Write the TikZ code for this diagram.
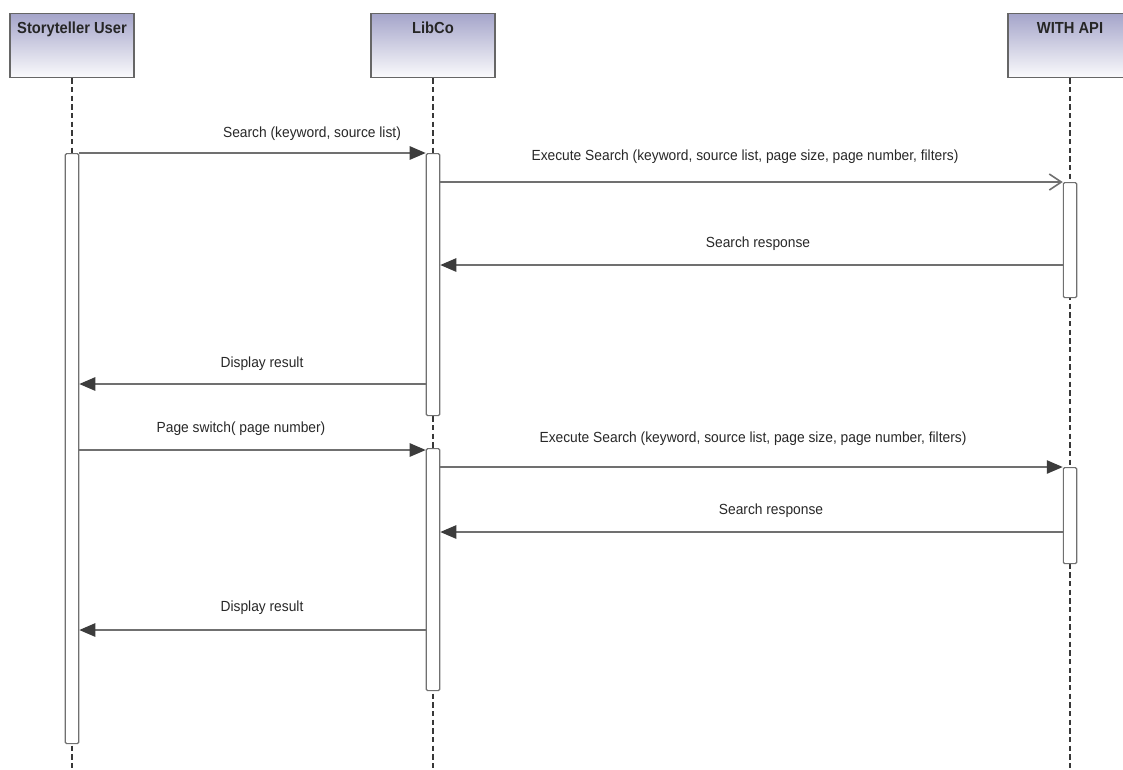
\documentclass[tikz,border=0pt]{standalone}
\usepackage{fontspec}
\setmainfont{Liberation Sans}[FakeStretch=0.92]
\newfontfamily\msgfont{Liberation Sans}[FakeStretch=0.94]
\usetikzlibrary{arrows.meta}
\definecolor{headtop}{RGB}{165,165,202}
\definecolor{linegray}{RGB}{112,112,112}
\definecolor{tipgray}{RGB}{60,60,60}
\definecolor{textgray}{RGB}{40,40,40}
\tikzset{head/.style={draw=black!60, line width=1pt, top color=headtop, bottom color=white!95!headtop, anchor=north, minimum width=93pt, inner ysep=4pt, text height=11pt, text depth=29pt, font=\bfseries\fontsize{12}{14}\selectfont, text=black!85}}
\tikzset{bar/.style={draw=linegray, fill=white, line width=0.9pt, rounded corners=1pt, anchor=north, minimum width=10pt, inner sep=0pt}}
\tikzset{lifeline/.style={draw=black!78, line width=1.6pt, dash pattern=on 4pt off 2.5pt}}
\tikzset{msg/.style={draw=linegray, line width=1.2pt, -{Triangle[length=12pt,width=10pt,color=tipgray]}}}
\tikzset{async/.style={draw=linegray, line width=1.2pt, -{Straight Barb[length=9pt,width=12pt,color=linegray]}}}
\tikzset{mlabel/.style={font=\msgfont\fontsize{11}{13}\selectfont, text=textgray, inner sep=1pt}}
\begin{document}
\begin{tikzpicture}[x=0.75pt, y=-0.75pt]
    \clip (0,0) rectangle (1123,769);
    \fill[white] (0,0) rectangle (1123,769);
    % heads and lifelines
    \node[head] (user) at (72,13) {Storyteller User};
    \node[head] (libco) at (433,13) {LibCo};
    \node[head] (api) at (1070,13) {WITH API};
    \coordinate (bottom) at (0,775);
    \foreach \p in {user,libco,api}
        \draw[lifeline] (\p.south) -- (\p |- bottom);
    % activations
    \node[bar, minimum height=442.5pt] (ubar) at (72,153) {};
    \node[bar, minimum height=196.5pt] (lbar1) at (433,153) {};
    \node[bar, minimum height=181.5pt] (lbar2) at (433,448) {};
    \node[bar, minimum height=86.25pt] (abar1) at (1070,182) {};
    \node[bar, minimum height=72pt] (abar2) at (1070,467) {};
    % messages
    \coordinate (m1) at (0,153);
    \coordinate (m2) at (0,182);
    \coordinate (m3) at (0,265);
    \coordinate (m4) at (0,384);
    \coordinate (m5) at (0,450);
    \coordinate (m6) at (0,467);
    \coordinate (m7) at (0,532);
    \coordinate (m8) at (0,630);
    \draw[msg] (ubar.east |- m1) -- (lbar1.west |- m1);
    \draw[async] (lbar1.east |- m2) -- (abar1.west |- m2);
    \draw[msg] (abar1.west |- m3) -- (lbar1.east |- m3);
    \draw[msg] (lbar1.west |- m4) -- (ubar.east |- m4);
    \draw[msg] (ubar.east |- m5) -- (lbar2.west |- m5);
    \draw[msg] (lbar2.east |- m6) -- (abar2.west |- m6);
    \draw[msg] (abar2.west |- m7) -- (lbar2.east |- m7);
    \draw[msg] (lbar2.west |- m8) -- (ubar.east |- m8);
    % labels
    \node[mlabel] (l1) at (312,134) {Search (keyword, source list)};
    \node[mlabel] (l2) at (745,157) {Execute Search (keyword, source list, page size, page number, filters)};
    \node[mlabel] (l3) at (758,244) {Search response};
    \node[mlabel] (l4) at (262,364) {Display result};
    \node[mlabel] (l5) at (241,429) {Page switch( page number)};
    \node[mlabel] (l6) at (753,439) {Execute Search (keyword, source list, page size, page number, filters)};
    \node[mlabel] (l7) at (771,511) {Search response};
    \node[mlabel] (l8) at (262,608) {Display result};
\end{tikzpicture}
\end{document}
